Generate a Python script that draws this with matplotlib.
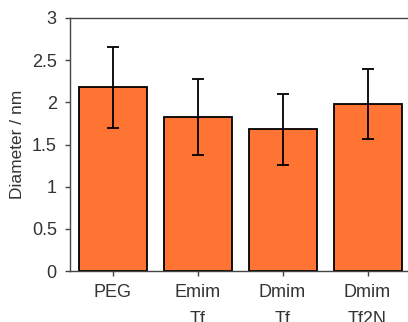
import numpy as np
import matplotlib
matplotlib.use('Agg')
import matplotlib.pyplot as plt

plt.rcParams['font.family'] = ['Liberation Sans', 'DejaVu Sans']

# data
labels = ['PEG', 'Emim\nTf', 'Dmim\nTf', 'Dmim\nTf2N']
diam = [2.18, 1.83, 1.68, 1.98]
err = [0.48, 0.45, 0.42, 0.41]

fig = plt.figure(figsize=(4.08, 3.22), dpi=100)
ax = fig.add_axes([70/408, 1 - 271/322, 340/408, 253/322])

x = np.arange(1, len(diam) + 1)
ax.bar(x, diam, width=0.8, color='#FF7433', edgecolor='black', linewidth=1.3)
ax.errorbar(x, diam, yerr=err, fmt='none', ecolor='black', elinewidth=1.3,
            capsize=4.3, capthick=1.3)

ax.set_xlim(0.5, 4.5)
ax.set_ylim(0, 3)
ax.set_yticks(np.arange(0, 3.01, 0.5))
ax.set_yticklabels(['0', '0.5', '1', '1.5', '2', '2.5', '3'])
ax.set_xticks(x)
ax.set_xticklabels(labels, linespacing=1.75, va='top')
ax.set_ylabel('Diameter / nm', fontsize=12.5, color='#333333', labelpad=5)

for s in ['left', 'bottom', 'top']:
    ax.spines[s].set_color('#444444')
    ax.spines[s].set_linewidth(1.0)
ax.spines['right'].set_visible(False)
ax.tick_params(axis='both', direction='out', length=3.5, width=1.0,
               color='#444444', labelsize=13, labelcolor='#333333')
ax.tick_params(axis='x', pad=6)
ax.tick_params(axis='y', pad=6)

fig.savefig('out.png', dpi=100)
